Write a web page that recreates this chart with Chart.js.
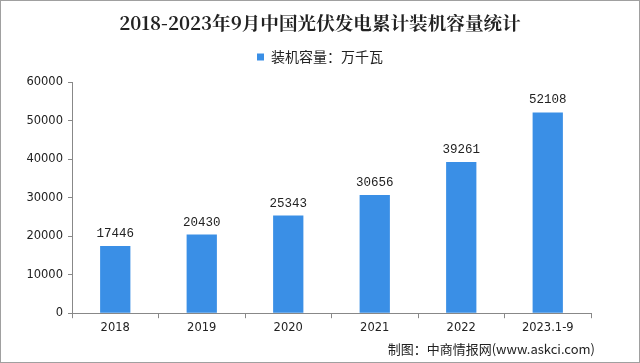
<!DOCTYPE html>
<html>
<head>
<meta charset="utf-8">
<script src="https://cdn.jsdelivr.net/npm/chart.js@4"></script>
<style>
  html, body { margin: 0; padding: 0; background: #fff; }
  #wrap { position: relative; width: 638px; height: 361px; border: 1px solid #a0a0a0; }
  #title { position: absolute; left: 0; right: 0; top: 8px; text-align: center;
    font: bold 18.6px "Noto Serif CJK SC", "Noto Sans CJK SC", serif; color: #222; }
  #source { position: absolute; right: 44px; top: 338px;
    font: 13px "Noto Sans CJK SC", sans-serif; color: #222; }
  canvas { position: absolute; left: 0; top: 0; }
</style>
</head>
<body>
<div id="wrap">
  <canvas id="c" width="638" height="361"></canvas>
  <div id="title">2018-2023年9月中国光伏发电累计装机容量统计</div>
  <div id="source">制图：中商情报网(www.askci.com)</div>
</div>
<script>
/* Cumulative PV installed capacity, 10k kW */
const categories = ['2018', '2019', '2020', '2021', '2022', '2023.1-9'];
const capacity = [17446, 20430, 25343, 30656, 39261, 52108];
const seriesLabel = '装机容量：万千瓦';
const yTicks = [0, 10000, 20000, 30000, 40000, 50000, 60000];

const barColor = '#3a8fe6';
const axisFont = { size: 11.5, family: '"DejaVu Sans", sans-serif' };

const valueLabels = {
  id: 'valueLabels',
  afterDatasetsDraw(chart) {
    const { ctx } = chart;
    const meta = chart.getDatasetMeta(0);
    ctx.save();
    ctx.font = '12.5px "Liberation Mono", monospace';
    ctx.fillStyle = '#222';
    ctx.textAlign = 'center';
    ctx.textBaseline = 'bottom';
    meta.data.forEach((bar, i) => {
      ctx.fillText(String(capacity[i]), bar.x, bar.y - 6);
    });
    ctx.restore();
  },
};

// extra room below the legend, and centre it on the whole canvas
const legendGap = {
  id: 'legendGap',
  beforeUpdate(chart) {
    const lg = chart.legend;
    if (!lg || lg._gapPatched) return;
    const fit = lg.fit;
    lg.fit = function () { fit.call(this); this.height += 8; };
    lg._gapPatched = true;
  },
  afterLayout(chart) {
    const lg = chart.legend;
    if (!lg) return;
    lg.left += 17;
    lg.right += 17;
  },
};

new Chart(document.getElementById('c'), {
  type: 'bar',
  data: {
    labels: categories,
    datasets: [{
      label: seriesLabel,
      data: capacity,
      backgroundColor: barColor,
      barPercentage: 0.35,
      categoryPercentage: 1,
    }],
  },
  options: {
    responsive: false,
    animation: false,
    layout: { padding: { top: 37, right: 48, bottom: 24, left: 14 } },
    plugins: {
      legend: {
        display: true,
        labels: {
          boxWidth: 7, boxHeight: 7, color: '#222',
          font: { size: 14, family: '"Noto Sans CJK SC", sans-serif' },
          padding: 12,
        },
      },
      tooltip: { enabled: false },
    },
    scales: {
      x: {
        grid: { display: true, drawOnChartArea: false, drawTicks: true, tickLength: 5, color: '#888' },
        border: { color: '#888' },
        ticks: { color: '#222', font: axisFont },
      },
      y: {
        min: 0, max: 60000,
        afterBuildTicks(axis) { axis.ticks = yTicks.map((v) => ({ value: v })); },
        afterFit(axis) { axis.width = 57; },
        grid: { display: true, drawOnChartArea: false, drawTicks: true, tickLength: 4, color: '#888' },
        border: { color: '#888' },
        ticks: { color: '#222', font: axisFont, padding: 5, callback: (v) => String(v) },
      },
    },
  },
  plugins: [valueLabels, legendGap],
});
</script>
</body>
</html>
